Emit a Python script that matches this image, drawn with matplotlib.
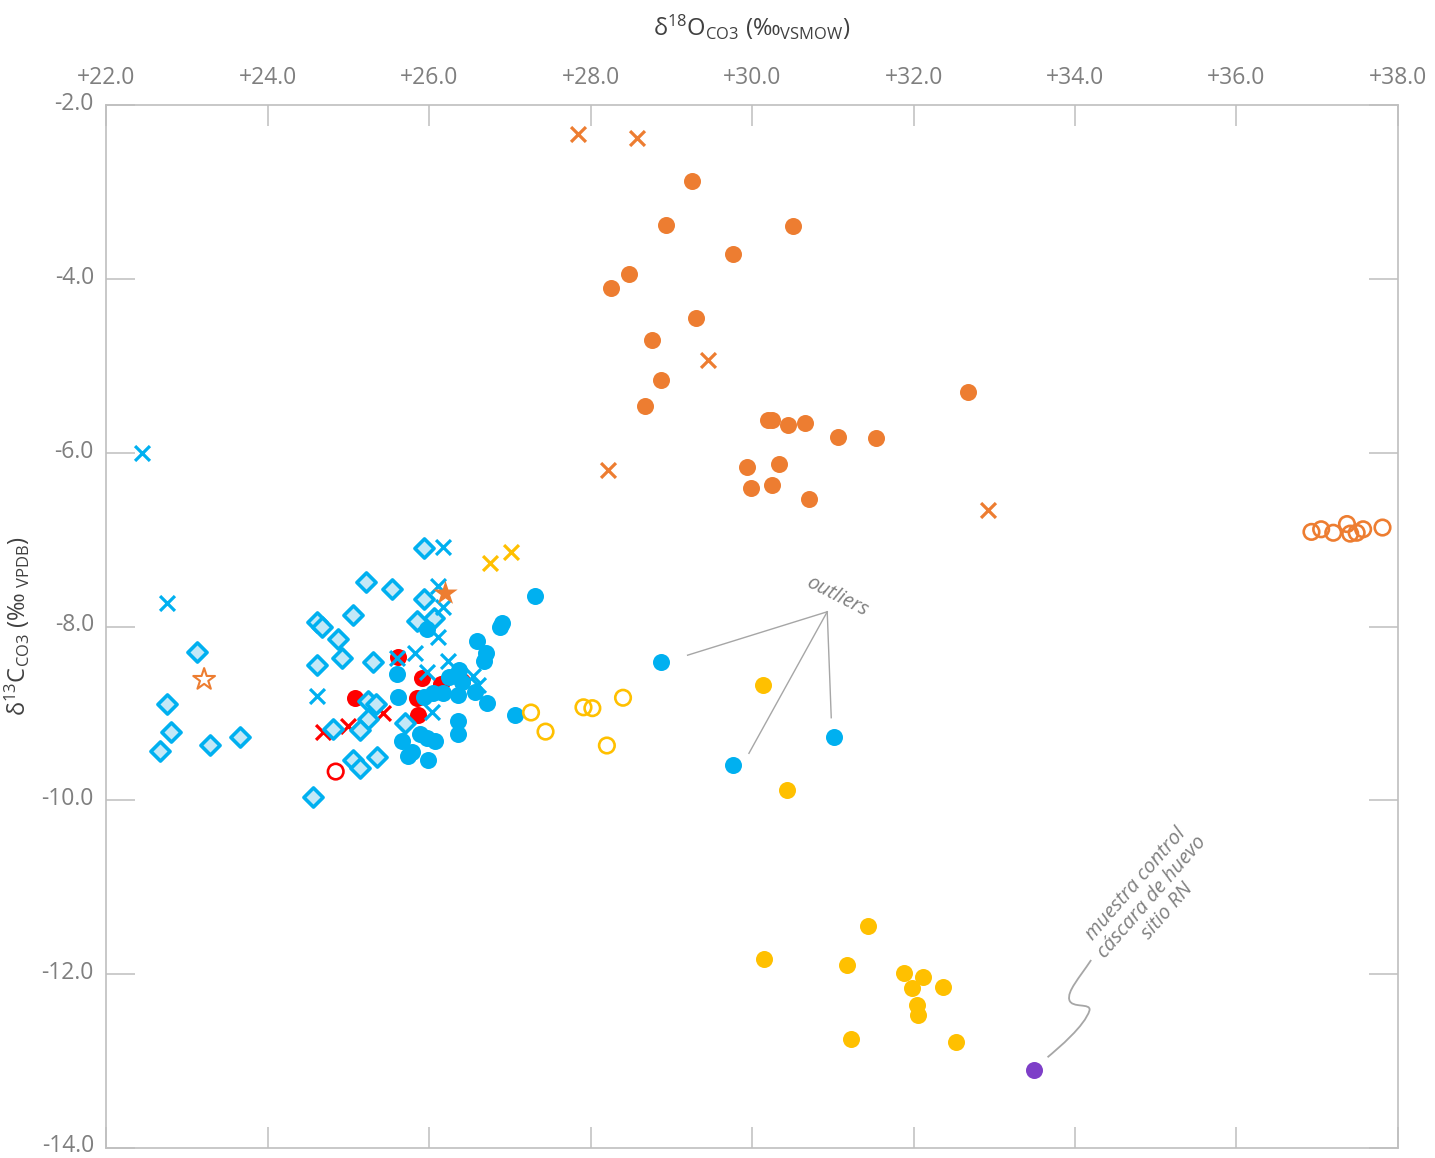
import matplotlib
matplotlib.use("Agg")
import matplotlib.pyplot as plt
import matplotlib.transforms as mtransforms
from matplotlib.path import Path
from matplotlib.patches import PathPatch
from matplotlib.ticker import FuncFormatter

plt.rcParams['font.family'] = ['Open Sans', 'DejaVu Sans']
plt.rcParams['mathtext.fontset'] = 'custom'
plt.rcParams['mathtext.rm'] = 'Open Sans'
plt.rcParams['mathtext.it'] = 'Open Sans:italic'

# ---- data: (delta18O VSMOW, delta13C VPDB) ----
orange_fill_x = [29.25, 28.93, 30.51, 29.76, 28.47, 28.25, 29.31, 28.76, 28.87, 28.67, 32.68,
                 30.20, 30.25, 30.44, 30.66, 31.06, 31.53, 29.94, 30.33, 29.98, 30.25, 30.70]
orange_fill_y = [-2.87, -3.38, -3.39, -3.71, -3.94, -4.10, -4.45, -4.70, -5.16, -5.46, -5.30,
                 -5.62, -5.62, -5.68, -5.66, -5.82, -5.83, -6.16, -6.13, -6.40, -6.37, -6.53]
orange_cross_x = [27.84, 28.57, 29.45, 28.21, 32.92]
orange_cross_y = [-2.33, -2.37, -4.93, -6.20, -6.66]
orange_open_x = [36.93, 37.05, 37.20, 37.37, 37.41, 37.49, 37.57, 37.81]
orange_open_y = [-6.91, -6.88, -6.92, -6.82, -6.93, -6.92, -6.88, -6.86]
orange_star_fill = (26.20, -7.61)
orange_star_open = (23.21, -8.61)

yellow_fill_x = [30.13, 30.43, 31.43, 30.15, 31.18, 31.88, 32.12, 31.98, 32.37, 32.04, 32.06, 31.22, 32.53]
yellow_fill_y = [-8.67, -9.88, -11.45, -11.83, -11.90, -11.99, -12.03, -12.16, -12.15, -12.36, -12.47, -12.75, -12.78]
yellow_cross_x = [26.75, 27.01]
yellow_cross_y = [-7.27, -7.14]
yellow_open_x = [27.26, 27.44, 27.91, 28.02, 28.40, 28.20]
yellow_open_y = [-8.99, -9.21, -8.93, -8.94, -8.82, -9.37]

control_x = [33.49]
control_y = [-13.11]

blue_fill_x = [28.87, 29.76, 31.01, 27.31, 26.90, 26.87, 26.59, 26.70, 26.68, 26.37, 26.25, 26.41,
               26.56, 26.72, 27.06, 26.35, 26.17, 26.04, 25.94, 25.97, 25.60, 25.61, 26.35, 26.35,
               25.88, 25.97, 26.07, 25.66, 25.78, 25.73, 25.98]
blue_fill_y = [-8.41, -9.60, -9.27, -7.65, -7.96, -8.00, -8.17, -8.30, -8.40, -8.50, -8.58, -8.64,
               -8.75, -8.88, -9.02, -8.79, -8.77, -8.77, -8.81, -8.03, -8.55, -8.81, -9.09, -9.24,
               -9.24, -9.28, -9.32, -9.32, -9.44, -9.49, -9.54]
blue_cross_x = [22.44, 22.75, 24.61, 26.17, 26.11, 26.17, 26.11, 25.82, 25.60, 26.23, 25.97, 26.54, 26.60, 26.03]
blue_cross_y = [-6.00, -7.73, -8.80, -7.08, -7.53, -7.77, -8.12, -8.30, -8.36, -8.40, -8.52, -8.57, -8.67, -8.98]
blue_diam_x = [23.12, 22.75, 22.80, 22.66, 23.28, 23.65, 25.94, 25.21, 25.54, 25.93, 24.61, 24.67,
               25.05, 24.87, 25.85, 26.06, 24.92, 24.61, 25.30, 25.24, 25.34, 25.24, 25.14, 24.81,
               25.70, 25.05, 25.14, 25.35, 24.56]
blue_diam_y = [-8.29, -8.89, -9.21, -9.43, -9.36, -9.27, -7.09, -7.49, -7.57, -7.68, -7.95, -8.00,
               -7.87, -8.14, -7.94, -7.90, -8.36, -8.44, -8.41, -8.86, -8.89, -9.07, -9.19, -9.18,
               -9.11, -9.54, -9.63, -9.50, -9.96]

red_fill_x = [25.61, 25.08, 25.91, 26.15, 26.41, 25.85, 25.86]
red_fill_y = [-8.35, -8.82, -8.59, -8.66, -8.63, -8.82, -9.02]
red_cross_x = [24.68, 24.99, 25.42]
red_cross_y = [-9.21, -9.15, -8.99]
red_open_x = [24.84]
red_open_y = [-9.67]

x_ticks = [22, 24, 26, 28, 30, 32, 34, 36, 38]
y_ticks = [-2, -4, -6, -8, -10, -12, -14]

# ---- colours ----
BLUE = '#00B0F0'
BLUE_LIGHT = '#C3E8F7'
ORANGE = '#ED7D31'
YELLOW = '#FFC000'
RED = '#FF0000'
PURPLE = '#7E3FC8'
SPINE = '#BFBFBF'
TICKTXT = '#7F7F7F'

fig = plt.figure(figsize=(14.35, 11.58), dpi=100)
ax = fig.add_axes([0.0742, 0.0090, 0.8999, 0.8999])

ax.set_xlim(22, 38)
ax.set_ylim(-14, -2)

S_DOT = 150
S_X = 115
S_OPEN = 125

# red group
ax.scatter(red_cross_x, red_cross_y, marker='x', s=S_X, color=RED, linewidths=2.3, zorder=2)
ax.scatter(red_open_x, red_open_y, marker='o', s=S_OPEN, facecolors='none', edgecolors=RED, linewidths=1.9, zorder=2)
ax.scatter(red_fill_x, red_fill_y, marker='o', s=S_DOT, color=RED, linewidths=0, zorder=2)

# blue group
ax.scatter(blue_diam_x, blue_diam_y, marker='D', s=95, facecolors=BLUE_LIGHT, edgecolors=BLUE, linewidths=2.6, zorder=3)
ax.scatter(blue_fill_x, blue_fill_y, marker='o', s=S_DOT, color=BLUE, linewidths=0, zorder=4)
ax.scatter(blue_cross_x, blue_cross_y, marker='x', s=S_X, color=BLUE, linewidths=2.3, zorder=5)

# yellow group
ax.scatter(yellow_fill_x, yellow_fill_y, marker='o', s=S_DOT, color=YELLOW, linewidths=0, zorder=4)
ax.scatter(yellow_cross_x, yellow_cross_y, marker='x', s=S_X, color=YELLOW, linewidths=2.3, zorder=4)
ax.scatter(yellow_open_x, yellow_open_y, marker='o', s=S_OPEN, facecolors='none', edgecolors=YELLOW, linewidths=1.9, zorder=4)

# orange group
ax.scatter(orange_fill_x, orange_fill_y, marker='o', s=S_DOT, color=ORANGE, linewidths=0, zorder=4)
ax.scatter(orange_cross_x, orange_cross_y, marker='x', s=S_X, color=ORANGE, linewidths=2.3, zorder=4)
ax.scatter(orange_open_x, orange_open_y, marker='o', s=S_OPEN, facecolors='none', edgecolors=ORANGE, linewidths=1.9, zorder=4)
ax.scatter([orange_star_fill[0]], [orange_star_fill[1]], marker='*', s=340, color=ORANGE, linewidths=0, zorder=6)
ax.scatter([orange_star_open[0]], [orange_star_open[1]], marker='*', s=270, facecolors='none', edgecolors=ORANGE, linewidths=1.5, zorder=6)

# control sample
ax.scatter(control_x, control_y, marker='o', s=S_DOT, color=PURPLE, linewidths=0, zorder=4)

# outlier pointers
apex = (30.93, -7.83)
for end in [(29.20, -8.33), (29.96, -9.46), (30.98, -9.05)]:
    ax.plot([apex[0], end[0]], [apex[1], end[1]], color='#A6A6A6', lw=1.0, zorder=1)
ax.text(31.05, -7.65, 'outliers', rotation=-27, ha='center', va='center',
        fontsize=14.5, style='italic', color='#808080')

# squiggle leader to the control sample
verts = [(34.20, -11.84), (34.05, -12.05), (33.90, -12.20), (33.93, -12.30),
         (33.96, -12.40), (34.20, -12.33), (34.18, -12.42),
         (34.12, -12.60), (33.80, -12.85), (33.66, -12.96)]
codes = [Path.MOVETO, Path.CURVE4, Path.CURVE4, Path.CURVE4,
         Path.CURVE4, Path.CURVE4, Path.CURVE4,
         Path.CURVE4, Path.CURVE4, Path.CURVE4]
ax.add_patch(PathPatch(Path(verts, codes), facecolor='none', edgecolor='#A6A6A6', lw=1.3, zorder=1))
ax.text(34.95, -11.12, 'muestra control\ncáscara de huevo\nsitio RN', rotation=49,
        ha='center', va='center', multialignment='center', fontsize=14.5,
        style='italic', color='#808080', linespacing=1.05, rotation_mode='anchor')

# axes styling
for sp in ax.spines.values():
    sp.set_color(SPINE)
    sp.set_linewidth(1.2)

ax.xaxis.set_ticks_position('top')
ax.xaxis.set_label_position('top')
ax.set_xticks(x_ticks)
ax.set_yticks(y_ticks)
ax.xaxis.set_major_formatter(FuncFormatter(lambda v, p: f'+{v:.1f}'))
ax.yaxis.set_major_formatter(FuncFormatter(lambda v, p: f'{v:.1f}'))
ax.tick_params(axis='x', which='major', direction='in', length=15, width=1.1, color=SPINE,
               top=True, bottom=True, labeltop=True, labelbottom=False,
               pad=11, labelsize=16.5, labelcolor=TICKTXT)
ax.tick_params(axis='y', which='major', direction='in', length=21, width=1.1, color=SPINE,
               left=True, right=True, labelleft=True, labelright=False,
               pad=9, labelsize=16.5, labelcolor=TICKTXT)

# y tick labels sit a little above their ticks
lift = mtransforms.ScaledTranslation(0, 3 / 72, fig.dpi_scale_trans)
for lbl in ax.get_yticklabels():
    lbl.set_transform(lbl.get_transform() + lift)

ax.set_xlabel('δ$^{18}$O$_{\\mathrm{CO3}}$ (‰$_{\\mathrm{VSMOW}}$)', fontsize=17,
              color='#404040', labelpad=22)
ax.set_ylabel('δ$^{13}$C$_{\\mathrm{CO3}}$ (‰$_{\\mathrm{\\ VPDB}}$)', fontsize=17,
              color='#404040')
ax.yaxis.set_label_coords(-0.0575, 0.5)

fig.savefig('out.png', dpi=100)
